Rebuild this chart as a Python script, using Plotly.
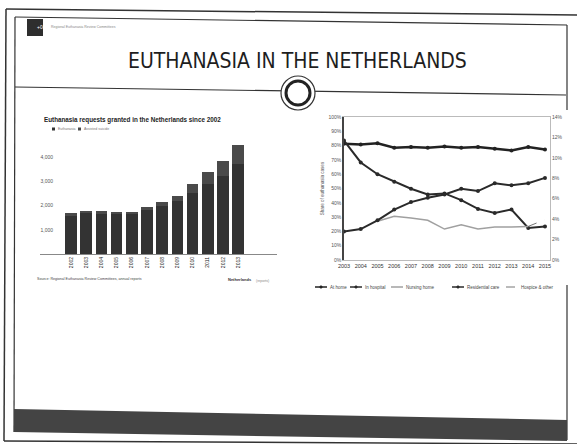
import plotly.graph_objects as go

W, H = 577, 444

def px(x):
    return x / W

def py(y):
    return 1 - y / H

# ---------------- data ----------------
bar_years = ["2002", "2003", "2004", "2005", "2006", "2007", "2008", "2009", "2010", "2011", "2012", "2013"]
bar_lower = [1590, 1680, 1670, 1650, 1650, 1820, 1980, 2210, 2530, 2880, 3210, 3700]
bar_upper = [90, 100, 110, 100, 100, 130, 160, 200, 350, 500, 650, 800]
bar_ticks = [1000, 2000, 3000, 4000]
bar_names = ["Euthanasia", "Assisted suicide"]

line_years = [2003, 2004, 2005, 2006, 2007, 2008, 2009, 2010, 2011, 2012, 2013, 2014, 2015]
home = [81.3, 80.8, 81.7, 78.5, 79.0, 78.5, 79.4, 78.5, 79.0, 77.8, 76.6, 79.0, 77.3]
hospital = [11.7, 9.55, 8.4, 7.67, 6.98, 6.42, 6.52, 5.86, 5.0, 4.6, 4.94, 3.13, 3.29]
nursing = [None, None, 3.79, 4.28, 4.12, 3.89, 3.03, 3.46, 3.03, 3.23, 3.23, 3.29, None]
care = [2.8, 3.03, 3.89, 4.94, 5.67, 6.09, 6.42, 6.98, 6.75, 7.51, 7.31, 7.51, 8.04]
hospice = [None, None, None, None, None, None, None, None, None, None, None, 3.29, 3.95]
line_names = ["At home", "In hospital", "Nursing home", "Residential care", "Hospice & other"]

fig = go.Figure()

bar_colors = ["#333333", "#4a4a4a"]
fig.add_trace(go.Bar(x=bar_years, y=bar_lower, name=bar_names[0], marker_color=bar_colors[0],
                     marker_line_width=0, xaxis="x", yaxis="y", showlegend=False))
fig.add_trace(go.Bar(x=bar_years, y=bar_upper, name=bar_names[1], marker_color=bar_colors[1],
                     marker_line_width=0, xaxis="x", yaxis="y", showlegend=False))

line_styles = [
    dict(color="#222222", width=2.5, dash="solid", marker=True),
    dict(color="#2a2a2a", width=2, dash="solid", marker=True),
    dict(color="#a0a0a0", width=1.5, dash="solid", marker=False),
    dict(color="#2a2a2a", width=2, dash="solid", marker=True),
    dict(color="#777777", width=1, dash="dash", marker=False),
]
series = [home, hospital, nursing, care, hospice]
axes = ["y2", "y3", "y3", "y3", "y3"]
for name, ys, st, ax in zip(line_names, series, line_styles, axes):
    fig.add_trace(go.Scatter(
        x=line_years, y=ys, name=name,
        mode="lines+markers" if st["marker"] else "lines",
        line=dict(color=st["color"], width=st["width"], dash=st["dash"]),
        marker=dict(size=4, color=st["color"]),
        xaxis="x2", yaxis=ax, showlegend=False))

small = dict(family="Liberation Sans, Arial", size=5, color="#555555")

fig.update_layout(
    width=W, height=H,
    margin=dict(l=0, r=0, t=0, b=0, autoexpand=False),
    paper_bgcolor="white", plot_bgcolor="white",
    barmode="stack", bargap=0.23,
    font=dict(family="Liberation Sans, Arial", color="#333333"),
    xaxis=dict(domain=[px(40), px(277)], range=[-2.04, 13.55], type="category",
               showline=True, linecolor="#888888", linewidth=1, ticks="",
               tickangle=-90, tickfont=dict(family="Liberation Sans, Arial", size=5, color="#222222"),
               showgrid=False, anchor="y"),
    yaxis=dict(domain=[py(254), py(130)], range=[0, 5124], tickvals=bar_ticks, tickformat=",",
               showgrid=False, showline=False, ticks="", tickfont=small, anchor="free",
               position=px(53), zeroline=False),
    xaxis2=dict(domain=[px(344), px(550)], range=[2003, 2015.3], tickvals=line_years,
                showline=True, linecolor="#bbbbbb", mirror=True, ticks="", tickangle=0,
                tickfont=dict(family="Liberation Sans, Arial", size=5.5, color="#333333"),
                showgrid=False, anchor="y2", zeroline=False),
    yaxis2=dict(domain=[py(260), py(117)], range=[0, 100], dtick=10, ticksuffix="%",
                showline=True, linecolor="#444444", linewidth=1.5, ticks="", showgrid=False,
                tickfont=small, anchor="x2", zeroline=False,
                title=dict(text="Share of euthanasia cases", font=dict(size=4.5, color="#555555"), standoff=4)),
    yaxis3=dict(domain=[py(260), py(117)], range=[0, 14], dtick=2, ticksuffix="%",
                overlaying="y2", side="right", anchor="x2", showline=True, linecolor="#bbbbbb",
                ticks="", showgrid=False, tickfont=small, zeroline=False),
)

# ---------------- shapes (pixel coordinates converted to paper) ----------------
def P(path):
    out = []
    for p in path.split():
        if "," in p:
            a, b = p.split(",")
            out.append(f"{px(float(a)):.5f},{py(float(b)):.5f}")
        else:
            out.append(p)
    return " ".join(out)

shapes = []
def line(path, color="#333333", width=1.2, dash="solid"):
    shapes.append(dict(type="path", path=P(path), xref="paper", yref="paper",
                       line=dict(color=color, width=width, dash=dash)))

def poly(path, color):
    shapes.append(dict(type="path", path=P(path), xref="paper", yref="paper",
                       fillcolor=color, line=dict(color=color, width=0), layer="above"))

def circ(cx, cy, r, fill, color, width):
    shapes.append(dict(type="circle", xref="paper", yref="paper",
                       x0=px(cx - r), x1=px(cx + r), y0=py(cy + r), y1=py(cy - r),
                       fillcolor=fill, line=dict(color=color, width=width)))

# outer frame
line("M 6,9 L 577,15", width=1.5)
line("M 6,9 L 4,441", width=1.5)
line("M 4,441 L 577,444", width=1.5)
# inner frame
line("M 15,17 L 567,25")
line("M 15,17 L 14,432")
line("M 567,25 L 567,110")
line("M 567,285 L 567,440")
# divider under the title
line("M 15,87 L 566,95")
circ(298, 93, 17, "white", "#333333", 1.2)
circ(298, 93, 12, "white", "#222222", 3)
# bottom dark band
poly("M 14,409 L 567,420 L 567,441 L 14,432 Z", "#444444")
# logo
poly("M 27,19 L 43,19 L 43,36 L 27,36 Z", "#2e2e2e")

# bar-chart legend (manual)
bar_leg_x = [52, 78]
for xx, c in zip(bar_leg_x, bar_colors):
    poly(f"M {xx},127.5 L {xx+3},127.5 L {xx+3},130.5 L {xx},130.5 Z", c)

# line-chart legend (manual)
leg_x = [315, 350, 391, 452, 506]
for xx, st in zip(leg_x, line_styles):
    line(f"M {xx},287 L {xx+12},287", color=st["color"], width=min(st["width"], 1.5), dash=st["dash"])
    if st["marker"]:
        circ(xx + 6, 287, 1.3, st["color"], st["color"], 0.5)

fig.update_layout(shapes=shapes)

# ---------------- texts ----------------
annotations = [
    dict(text="EUTHANASIA IN THE NETHERLANDS", x=px(297), y=py(61),
         font=dict(family="Liberation Sans Narrow, DejaVu Sans Condensed, Roboto Condensed, Liberation Sans",
                   size=21, color="#1e1e1e")),
    dict(text="+0+", x=px(35), y=py(27.5), font=dict(size=5, color="white")),
    dict(text="Regional Euthanasia Review Committees", x=px(49), y=py(27), xanchor="left",
         font=dict(size=3.5, color="#888888")),
    dict(text="<b>Euthanasia requests granted in the Netherlands since 2002</b>", x=px(42), y=py(120),
         xanchor="left", font=dict(size=6.3, color="#222222")),
    dict(text="Source: Regional Euthanasia Review Committees, annual reports", x=px(35), y=py(279),
         xanchor="left", font=dict(size=3.6, color="#444444")),
    dict(text="<b>Netherlands</b>", x=px(226), y=py(279), xanchor="left",
         font=dict(size=4, color="#333333")),
    dict(text="(reports)", x=px(254), y=py(281), xanchor="left",
         font=dict(size=3.5, color="#888888")),
]
for xx, nm in zip(bar_leg_x, bar_names):
    annotations.append(dict(text=nm, x=px(xx + 4), y=py(129), xanchor="left",
                            font=dict(size=3.5, color="#777777")))
for xx, nm in zip(leg_x, line_names):
    annotations.append(dict(text=nm, x=px(xx + 13), y=py(287), xanchor="left",
                            font=dict(size=4.5, color="#444444")))
for a in annotations:
    a.update(xref="paper", yref="paper", showarrow=False, yanchor="middle")
fig.update_layout(annotations=annotations)

fig.write_html("out.html")
